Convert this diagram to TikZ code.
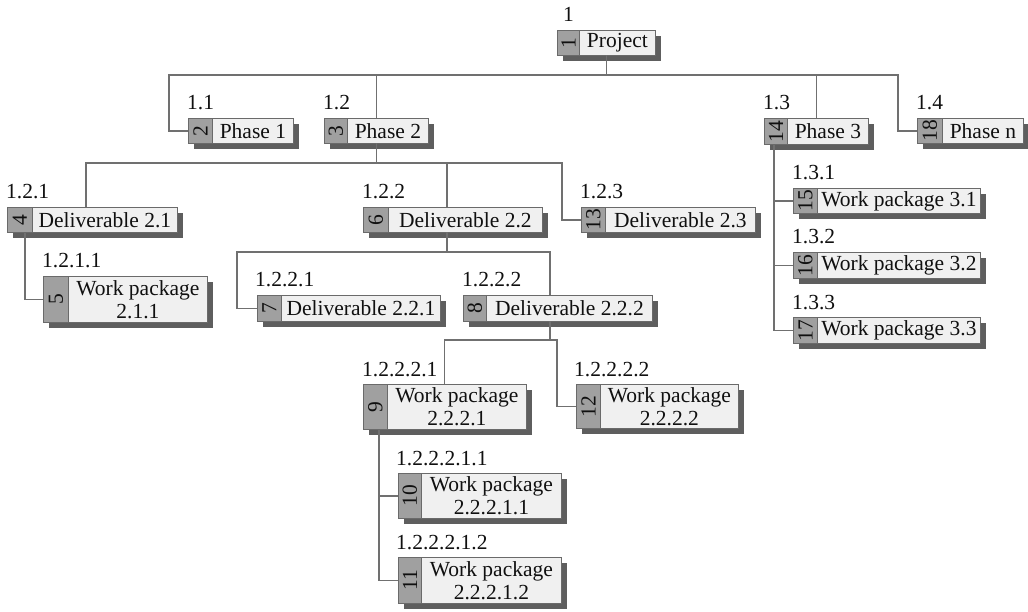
\documentclass[tikz,border=0pt]{standalone}
\usepackage{graphicx}
\usepackage{fontspec}
\setmainfont{Liberation Serif}
\definecolor{tabc}{HTML}{A0A0A0}
\definecolor{boxc}{HTML}{F0F0F0}
\definecolor{shadowc}{HTML}{5E5E5E}
\definecolor{edgec}{HTML}{6A6A6A}
\definecolor{linec}{HTML}{707070}
\definecolor{textc}{HTML}{101010}
\newcommand\wbsfont{\fontsize{21.5}{23}\selectfont}
\tikzset{
  shade/.style={fill=shadowc, draw=none},
  tabbox/.style={draw=edgec, fill=tabc, inner sep=0pt, line width=0.8pt, text=textc},
  txtbox/.style={draw=edgec, fill=boxc, inner sep=0pt, align=center, font=\wbsfont, line width=0.8pt, text=textc},
  lbl/.style={inner sep=0pt, font=\wbsfont, text=textc},
  wholebox/.style={inner sep=0pt, draw=none},
  conn/.style={draw=linec, line width=1.4pt},
}
% #1 id, #2 tab left, #3 tab right, #4 right, #5 top, #6 bottom, #7 text, #8 label, #9 label x
\newcommand\wbsnode[9]{%
  \fill[shade] ({#2+6},{#5+6}) rectangle ({#4+6},{#6+6});
  \node[wholebox, anchor=north west, minimum width={#4pt-#2pt}, minimum height={#6pt-#5pt}] (w#1) at (#2,#5) {};
  \node[tabbox, anchor=north west, minimum width={#3pt-#2pt}, minimum height={#6pt-#5pt}] (t#1) at (#2,#5) {\rotatebox{90}{\wbsfont #1}};
  \node[txtbox, anchor=north west, minimum width={#4pt-#3pt}, minimum height={#6pt-#5pt}] (b#1) at (#3,#5) {#7};
  \node[lbl, anchor=base west] (l#1) at (#9,{#5-8}) {#8};
}
\begin{document}
\begin{tikzpicture}[x=1pt, y=-1pt]
\useasboundingbox (0,0) rectangle (1028,612);
\fill[white] (0,0) rectangle (1028,612);

\wbsnode{1}{557}{579}{655}{30}{55}{Project}{1}{563}
\wbsnode{2}{188}{212}{293}{118}{143}{Phase 1}{1.1}{187}
\wbsnode{3}{324}{347}{428}{118}{143}{Phase 2}{1.2}{323}
\wbsnode{14}{764}{787}{868}{118}{144}{Phase 3}{1.3}{763}
\wbsnode{18}{917}{942}{1023}{118}{143}{Phase n}{1.4}{916}
\wbsnode{4}{7}{32}{177}{207}{232}{Deliverable 2.1}{1.2.1}{6}
\wbsnode{6}{363}{388}{542}{207}{232}{Deliverable 2.2}{1.2.2}{362}
\wbsnode{13}{581}{605}{755}{207}{232}{Deliverable 2.3}{1.2.3}{580}
\wbsnode{5}{43}{68}{207}{276}{322}{Work package\\2.1.1}{1.2.1.1}{42}
\wbsnode{7}{257}{281}{440}{295}{321}{Deliverable 2.2.1}{1.2.2.1}{255}
\wbsnode{8}{463}{486}{652}{295}{321}{Deliverable 2.2.2}{1.2.2.2}{462}
\wbsnode{9}{363}{387}{526}{384}{429}{Work package\\2.2.2.1}{1.2.2.2.1}{362}
\wbsnode{12}{576}{600}{738}{384}{428}{Work package\\2.2.2.2}{1.2.2.2.2}{574}
\wbsnode{10}{398}{421}{561}{473}{518}{Work package\\2.2.2.1.1}{1.2.2.2.1.1}{396}
\wbsnode{11}{398}{421}{561}{557}{603}{Work package\\2.2.2.1.2}{1.2.2.2.1.2}{396}
\wbsnode{15}{793}{817}{980}{188}{213}{Work package 3.1}{1.3.1}{792}
\wbsnode{16}{793}{817}{980}{252}{278}{Work package 3.2}{1.3.2}{792}
\wbsnode{17}{793}{817}{980}{317}{343}{Work package 3.3}{1.3.3}{792}

% junction coordinates
\coordinate (bus0) at (0,75);
\coordinate (bus0l) at (169,75);
\coordinate (bus0r) at (898,75);
\coordinate (bus1l) at (86,163);
\coordinate (bus1m) at (447,163);
\coordinate (bus1r) at (562,163);
\coordinate (x25) at (25,0);
\coordinate (bus2l) at (237,252);
\coordinate (bus2m) at (447,252);
\coordinate (bus2r) at (550,252);
\coordinate (bus3m) at (550,340);
\coordinate (bus3l) at (444,340);
\coordinate (bus3r) at (557,340);
\coordinate (x379) at (379,0);
\coordinate (x774) at (774,0);

% level 1
\draw[conn] (w1.south) -- (w1.south |- bus0);
\draw[conn] (t2.west) -| (bus0l) -- (bus0r) |- (t18.west);
\draw[conn] (w3.north) -- (w3.north |- bus0);
\draw[conn] (w14.north) -- (w14.north |- bus0);
% under Phase 2
\draw[conn] (w3.south) -- (w3.south |- bus1m);
\draw[conn] (w4.north -| bus1l) -- (bus1l) -- (bus1r) |- (t13.west);
\draw[conn] (w6.north -| bus1m) -- (bus1m);
% under Deliverable 2.1
\draw[conn] (t4.south -| x25) |- (t5.west);
% under Deliverable 2.2
\draw[conn] (w6.south -| bus2m) -- (bus2m);
\draw[conn] (t7.west) -| (bus2l) -- (bus2r) -- (w8.north -| bus2r);
% under Deliverable 2.2.2
\draw[conn] (w8.south -| bus3m) -- (bus3m);
\draw[conn] (w9.north) -- (w9.north |- bus3l) -- (bus3r) |- (t12.west);
% under WP 2.2.2.1
\draw[conn] (t9.south -| x379) |- (t11.west);
\draw[conn] (t10.west) -- (t10.west -| x379);
% under Phase 3
\draw[conn] (t14.south -| x774) |- (t17.west);
\draw[conn] (t15.west) -- (t15.west -| x774);
\draw[conn] (t16.west) -- (t16.west -| x774);
\end{tikzpicture}
\end{document}
